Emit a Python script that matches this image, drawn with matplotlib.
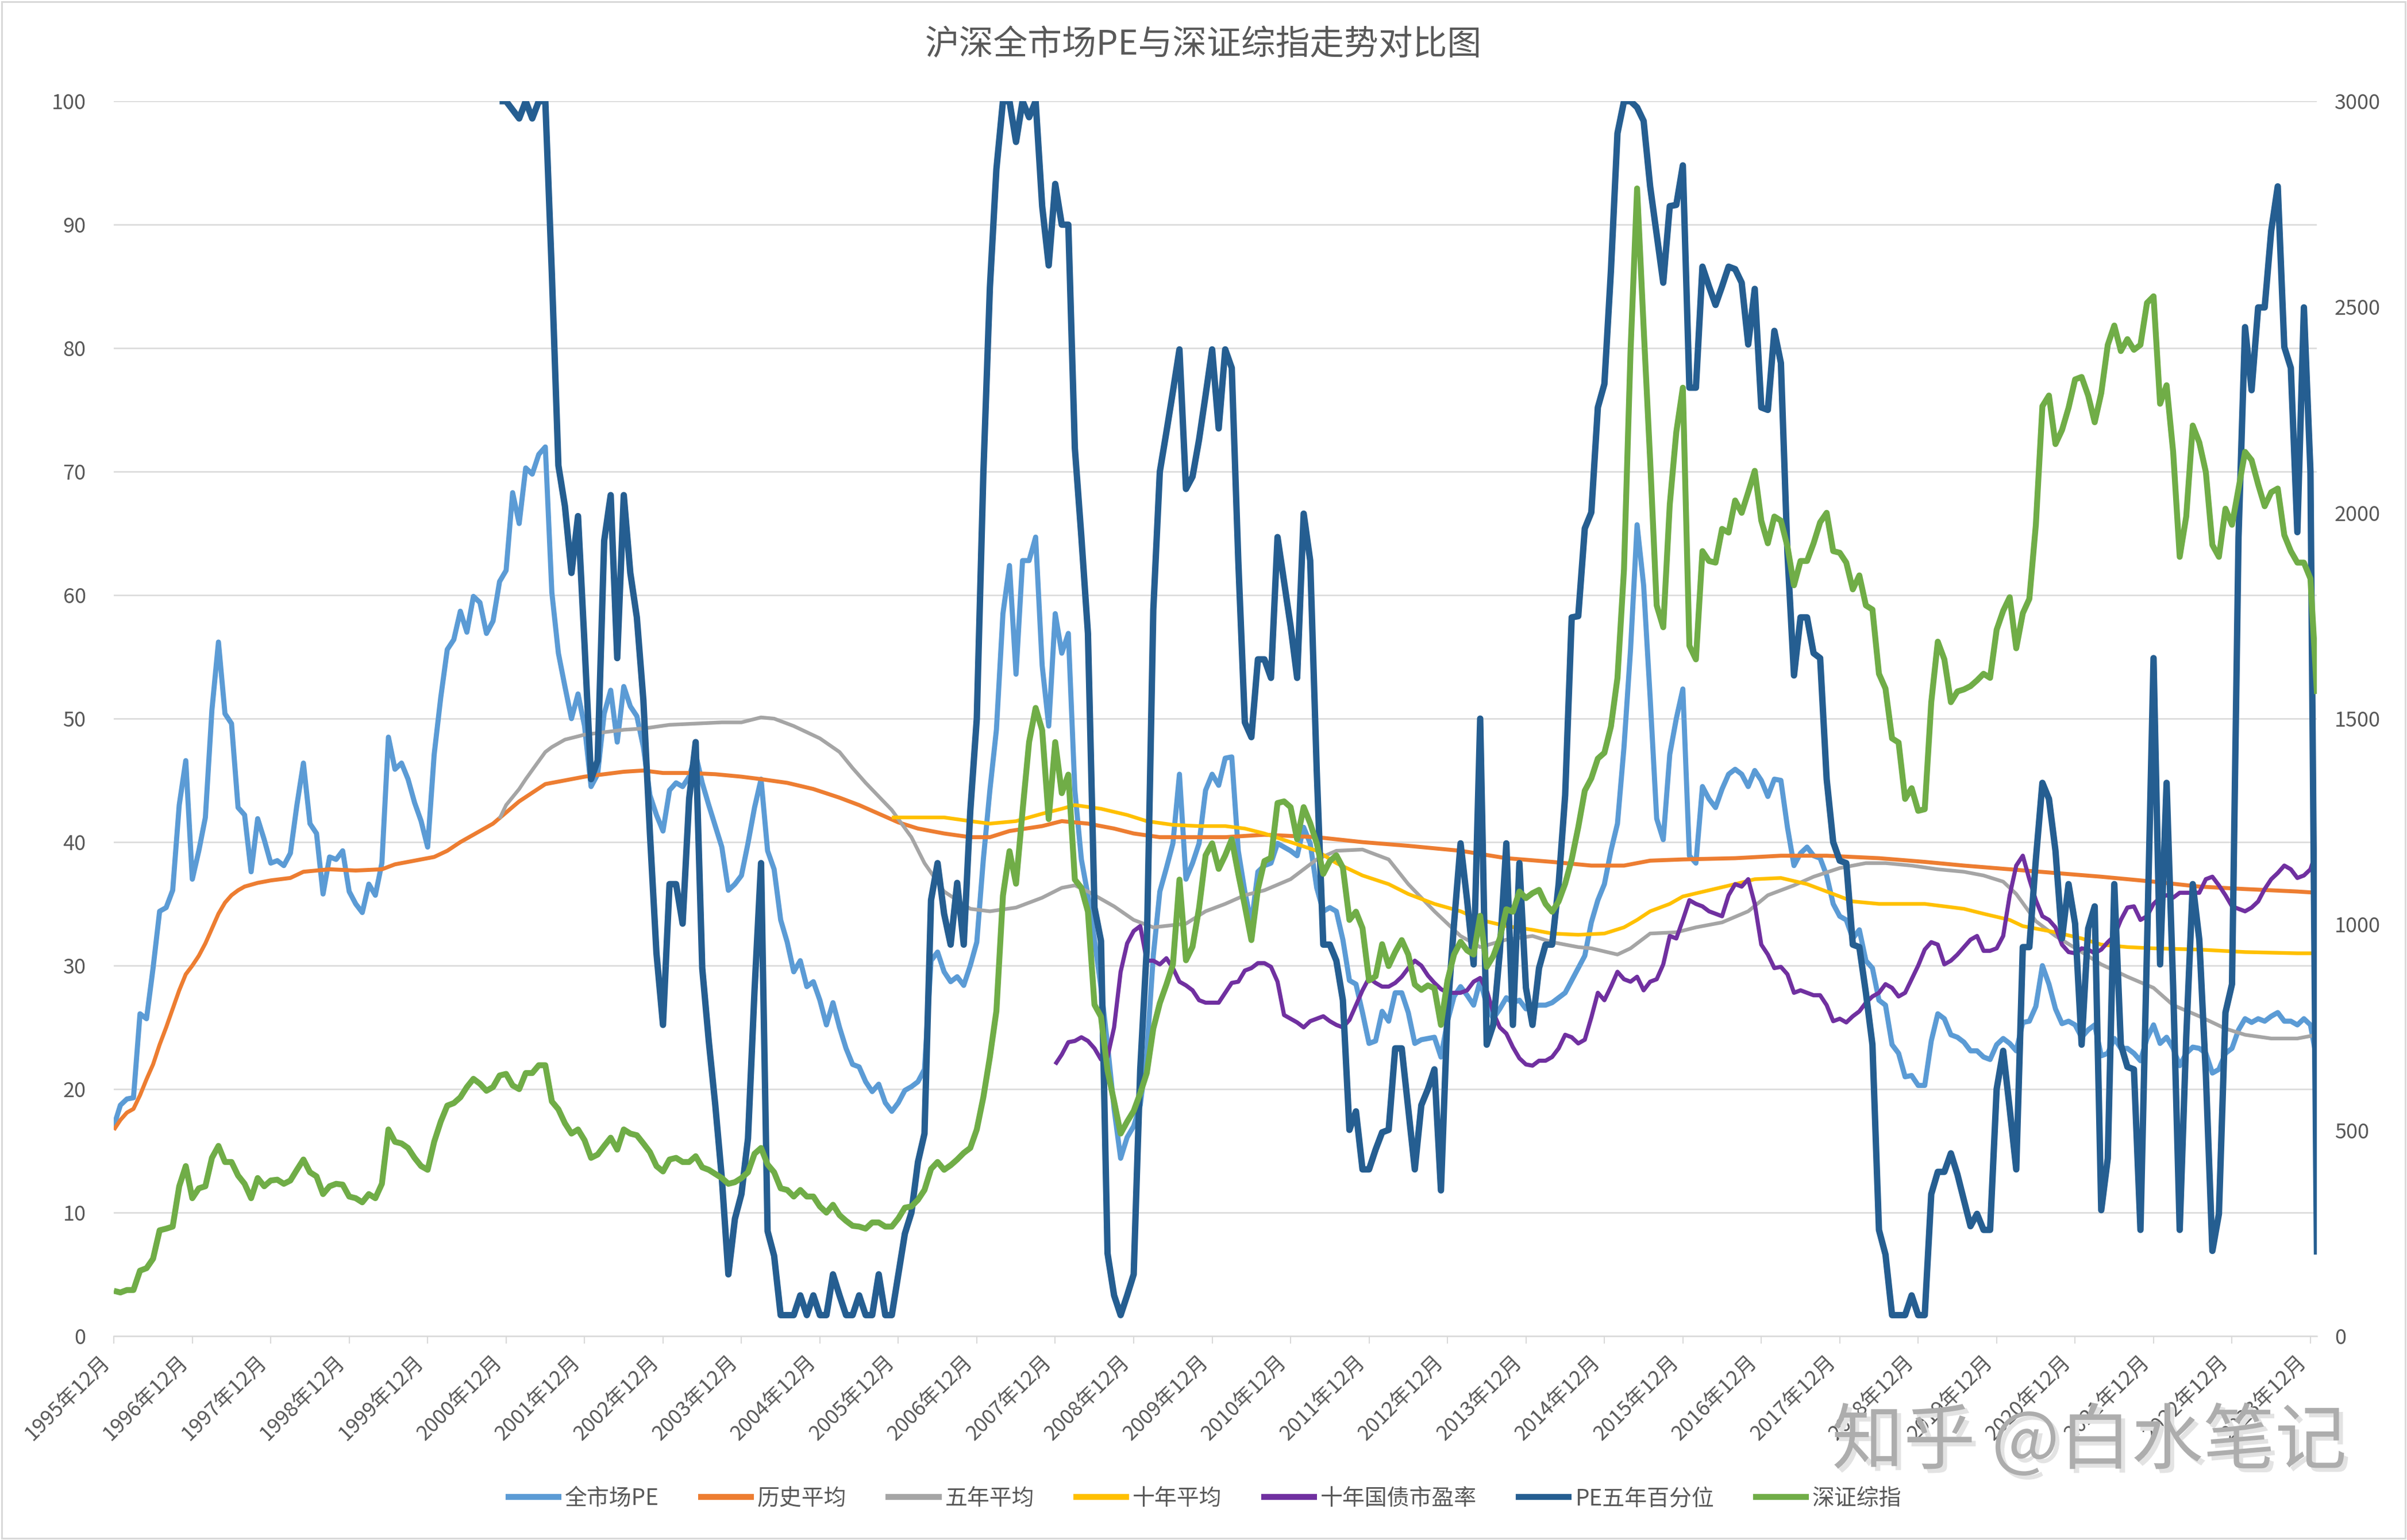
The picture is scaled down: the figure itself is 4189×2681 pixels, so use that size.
import numpy as np
import matplotlib
matplotlib.use('Agg')
import matplotlib.pyplot as plt
import matplotlib.patheffects as pe
from matplotlib.patches import Rectangle

plt.rcParams['font.family'] = ['Noto Sans CJK SC', 'DejaVu Sans']

# month index: 0 = 1995年12月, one step per month, 337 = 2024年1月
year_labels = [f'{y}年12月' for y in range(1995, 2024)]

# 全市场PE, monthly from 1995-12
pe_all = [
    17.0, 18.7, 19.2, 19.3, 26.1, 25.7, 29.8, 34.4, 34.7, 36.1, 43.0, 46.6,
    37.0, 39.3, 42.0, 50.7, 56.2, 50.4, 49.6, 42.8, 42.2, 37.6, 41.9, 40.2,
    38.3, 38.5, 38.1, 39.1, 43.0, 46.4, 41.5, 40.7, 35.8, 38.8, 38.6, 39.3,
    36.0, 35.0, 34.3, 36.6, 35.7, 38.3, 48.5, 45.9, 46.4, 45.1, 43.2, 41.7,
    39.6, 47.1, 51.7, 55.6, 56.4, 58.7, 57.0, 59.9, 59.4, 56.9, 57.9, 61.1,
    62.0, 68.3, 65.8, 70.3, 69.8, 71.4, 72.0, 60.2, 55.3, 52.6, 50.0, 52.0,
    49.4, 44.5, 45.5, 50.4, 52.3, 48.1, 52.6, 51.0, 50.2, 47.7, 43.8, 42.2,
    40.9, 44.2, 44.8, 44.5, 45.3, 47.1, 44.8, 43.0, 41.3, 39.6, 36.1, 36.6,
    37.3, 39.9, 42.8, 45.1, 39.3, 37.8, 33.7, 31.9, 29.5, 30.4, 28.3, 28.7,
    27.2, 25.2, 27.0, 25.0, 23.3, 22.0, 21.8, 20.6, 19.8, 20.4, 18.9, 18.2,
    18.9, 19.9, 20.2, 20.6, 21.6, 30.4, 31.1, 29.5, 28.7, 29.1, 28.4, 30.0,
    31.9, 38.6, 44.2, 49.1, 58.5, 62.4, 53.6, 62.8, 62.8, 64.7, 54.3, 49.4,
    58.5, 55.3, 56.9, 44.2, 38.6, 35.7, 32.1, 28.2, 23.6, 18.4, 14.4, 16.1,
    17.0, 18.7, 22.9, 30.8, 36.0, 37.9, 39.9, 45.5, 37.0, 38.3, 39.9, 44.2,
    45.5, 44.6, 46.8, 46.9, 39.3, 36.0, 33.4, 37.6, 38.1, 38.3, 39.9, 39.6,
    39.3, 38.9, 41.2, 39.9, 36.3, 34.4, 34.7, 34.4, 32.1, 28.8, 28.5, 26.2,
    23.7, 23.9, 26.3, 25.5, 27.8, 27.8, 26.2, 23.7, 24.0, 24.1, 24.2, 22.6,
    25.5, 27.5, 28.3, 27.6, 26.8, 28.8, 26.8, 25.7, 26.5, 27.4, 27.0, 27.2,
    26.5, 26.7, 26.8, 26.8, 27.0, 27.4, 27.8, 28.8, 29.8, 30.8, 33.5, 35.3,
    36.6, 39.3, 41.5, 47.7, 55.6, 65.7, 60.8, 51.7, 41.9, 40.2, 47.1, 50.0,
    52.4, 38.9, 38.3, 44.5, 43.5, 42.8, 44.3, 45.5, 45.9, 45.5, 44.5, 45.8,
    45.0, 43.7, 45.1, 45.0, 41.2, 38.1, 39.1, 39.6, 38.9, 38.7, 37.3, 35.0,
    34.0, 33.7, 32.2, 32.9, 30.4, 29.8, 27.2, 26.8, 23.6, 22.9, 21.0, 21.1,
    20.3, 20.3, 23.9, 26.1, 25.7, 24.4, 24.2, 23.8, 23.1, 23.1, 22.6, 22.4,
    23.6, 24.1, 23.7, 23.1, 25.4, 25.5, 26.7, 30.0, 28.5, 26.5, 25.3, 25.5,
    25.2, 24.2, 24.8, 25.2, 22.7, 22.9, 24.1, 23.3, 23.3, 22.9, 22.3, 24.1,
    25.2, 23.7, 24.2, 23.3, 21.9, 22.9, 23.4, 23.3, 22.9, 21.3, 21.6, 22.9,
    23.3, 24.8, 25.7, 25.4, 25.7, 25.5, 25.9, 26.2, 25.5, 25.5, 25.2, 25.7,
    25.2, 22.3,
]

# 历史平均 (sampled months, values)
hist_idx = [0, 1, 2, 3, 4, 5, 6, 7, 8, 9, 10, 11, 12, 13, 14, 15, 16, 17, 18, 19,
            20, 22, 24, 27, 29, 33, 37, 41, 43, 46, 49, 51, 53, 56, 58, 60, 62, 64,
            66, 69, 72, 75, 78, 81, 84, 88, 92, 96, 99, 103, 107, 111, 114, 117,
            120, 123, 127, 131, 134, 137, 142, 145, 149, 153, 156, 160, 164, 170,
            176, 184, 191, 198, 206, 213, 220, 226, 231, 235, 240, 248, 255, 262,
            270, 277, 283, 290, 297, 304, 312, 319, 326, 334, 337]
hist_avg = [16.7, 17.5, 18.1, 18.4, 19.5, 20.8, 22.0, 23.6, 25.0, 26.5, 28.0, 29.3,
            30.0, 30.8, 31.8, 33.0, 34.2, 35.1, 35.7, 36.1, 36.4, 36.7, 36.9, 37.1,
            37.6, 37.8, 37.7, 37.8, 38.2, 38.5, 38.8, 39.3, 40.0, 40.9, 41.5, 42.4,
            43.3, 44.0, 44.7, 45.0, 45.3, 45.5, 45.7, 45.8, 45.6, 45.6, 45.5, 45.3,
            45.1, 44.8, 44.3, 43.6, 43.0, 42.3, 41.6, 41.1, 40.7, 40.4, 40.4, 40.9,
            41.3, 41.7, 41.5, 41.1, 40.7, 40.4, 40.4, 40.4, 40.6, 40.4, 40.0, 39.7,
            39.3, 38.7, 38.4, 38.1, 38.1, 38.5, 38.6, 38.7, 38.9, 38.9, 38.7, 38.4,
            38.1, 37.8, 37.5, 37.2, 36.8, 36.4, 36.2, 36.0, 35.9]

# 五年平均
avg5_idx = [59, 60, 62, 63, 66, 67, 69, 72, 75, 78, 81, 85, 89, 93, 96, 99, 101,
            104, 108, 111, 113, 115, 119, 122, 124, 127, 131, 134, 138, 142, 145,
            147, 149, 153, 156, 159, 164, 167, 170, 173, 176, 180, 184, 187, 191,
            195, 198, 202, 206, 209, 213, 217, 220, 224, 226, 230, 232, 235, 239,
            242, 246, 250, 253, 257, 260, 264, 268, 271, 275, 279, 283, 286, 289,
            291, 294, 297, 301, 304, 308, 312, 315, 319, 323, 326, 330, 334, 337]
avg5 = [41.9, 43.0, 44.3, 45.1, 47.3, 47.7, 48.3, 48.7, 48.9, 49.1, 49.2, 49.5,
        49.6, 49.7, 49.7, 50.1, 50.0, 49.4, 48.4, 47.3, 46.0, 44.8, 42.6, 40.4,
        38.3, 36.0, 34.6, 34.4, 34.7, 35.5, 36.3, 36.5, 36.0, 34.8, 33.7, 33.1,
        33.4, 34.4, 35.0, 35.7, 36.1, 37.0, 38.6, 39.3, 39.4, 38.6, 36.6, 34.4,
        32.4, 31.5, 32.1, 32.4, 31.9, 31.5, 31.4, 30.9, 31.4, 32.6, 32.7, 33.1,
        33.5, 34.4, 35.7, 36.5, 37.2, 37.9, 38.3, 38.3, 38.1, 37.8, 37.6, 37.3,
        36.8, 35.8, 33.6, 32.4, 31.1, 30.1, 29.1, 28.2, 26.8, 25.9, 24.9, 24.4,
        24.1, 24.1, 24.4]

# 十年平均
avg10_idx = [119, 124, 127, 131, 134, 138, 142, 145, 147, 151, 155, 158, 162, 166,
             170, 173, 176, 180, 184, 187, 191, 195, 198, 202, 206, 209, 213, 217,
             220, 224, 228, 231, 233, 235, 238, 240, 244, 248, 251, 255, 259, 262,
             266, 270, 277, 280, 283, 286, 290, 292, 297, 301, 304, 308, 312, 319,
             326, 334, 337]
avg10 = [42.0, 42.0, 42.0, 41.7, 41.5, 41.7, 42.3, 42.7, 43.0, 42.7, 42.2, 41.7,
         41.4, 41.3, 41.3, 41.1, 40.7, 40.0, 39.3, 38.3, 37.3, 36.6, 35.8, 35.0,
         34.4, 33.7, 33.2, 32.9, 32.6, 32.5, 32.6, 33.1, 33.7, 34.4, 35.0, 35.6,
         36.1, 36.6, 37.0, 37.1, 36.6, 36.0, 35.2, 35.0, 35.0, 34.8, 34.6, 34.2,
         33.7, 33.2, 32.7, 32.2, 31.7, 31.5, 31.4, 31.3, 31.1, 31.0, 31.0]

# 十年国债市盈率, monthly from index 144 (2007-12)
bond_start = 144
bond_pe = [
    22.0, 22.8, 23.8, 23.9, 24.2, 23.9, 23.3, 22.4, 22.6, 25.0, 29.5, 31.8,
    32.8, 33.2, 30.4, 30.4, 30.1, 30.6, 29.8, 28.7, 28.4, 28.0, 27.2, 27.0,
    27.0, 27.0, 27.8, 28.6, 28.7, 29.6, 29.8, 30.2, 30.2, 29.9, 28.7, 26.0,
    25.7, 25.4, 25.0, 25.5, 25.7, 25.9, 25.5, 25.2, 25.0, 25.6, 26.8, 28.0,
    29.0, 28.6, 28.3, 28.3, 28.6, 29.1, 29.8, 30.4, 30.0, 29.2, 28.6, 28.1,
    27.8, 27.8, 27.8, 28.0, 28.7, 29.0, 28.0, 26.2, 25.0, 24.5, 23.4, 22.5,
    22.0, 21.9, 22.3, 22.3, 22.6, 23.3, 24.4, 24.2, 23.7, 24.0, 25.8, 27.8,
    27.2, 28.3, 29.5, 28.9, 28.7, 29.1, 28.0, 28.7, 28.9, 30.1, 32.4, 32.2,
    33.7, 35.3, 35.0, 34.8, 34.4, 34.2, 34.0, 35.7, 36.6, 36.4, 37.0, 35.0,
    31.7, 30.9, 29.8, 29.9, 29.3, 27.8, 28.0, 27.8, 27.6, 27.6, 26.8, 25.5,
    25.7, 25.4, 25.9, 26.3, 27.0, 27.5, 27.8, 28.5, 28.2, 27.5, 27.8, 28.9,
    30.0, 31.3, 31.9, 31.7, 30.1, 30.4, 30.9, 31.5, 32.1, 32.4, 31.2, 31.2,
    31.4, 32.4, 35.7, 38.1, 38.9, 37.0, 35.3, 34.0, 33.7, 33.1, 31.7, 31.1,
    31.0, 31.4, 31.3, 31.0, 31.3, 31.9, 32.4, 33.7, 34.7, 34.8, 33.7, 34.0,
    35.0, 35.5, 35.7, 35.5, 35.9, 35.9, 35.9, 35.9, 37.0, 37.2, 36.5, 35.7,
    34.8, 34.6, 34.4, 34.7, 35.2, 36.2, 37.0, 37.5, 38.1, 37.8, 37.1, 37.3,
    37.8, 39.4,
]

# PE五年百分位, monthly from index 59 (2000-11)
pct_start = 59
pe_pct = [
    100.0,
    100.0, 99.3, 98.6, 100.0, 98.6, 100.0, 100.0, 86.0, 70.5, 67.2, 61.8, 66.4,
    56.0, 45.1, 46.6, 64.4, 68.1, 54.9, 68.1, 61.8, 58.2, 51.5, 40.7, 31.0,
    25.2, 36.6, 36.6, 33.4, 43.5, 48.1, 29.8, 23.9, 18.7, 12.8, 5.0, 9.5,
    11.5, 16.0, 28.0, 38.3, 8.5, 6.5, 1.7, 1.7, 1.7, 3.3, 1.7, 3.3,
    1.7, 1.7, 5.0, 3.3, 1.7, 1.7, 3.3, 1.7, 1.7, 5.0, 1.7, 1.7,
    5.0, 8.3, 10.0, 14.1, 16.4, 35.3, 38.3, 34.2, 31.7, 36.7, 31.7, 42.5,
    50.0, 69.8, 84.9, 94.5, 100.0, 100.0, 96.7, 100.0, 98.7, 100.0, 91.5, 86.7,
    93.3, 90.0, 90.0, 71.9, 64.7, 56.9, 34.7, 32.0, 6.7, 3.3, 1.7, 3.3,
    5.0, 21.6, 31.4, 58.8, 70.0, 73.2, 76.5, 79.9, 68.6, 69.6, 72.6, 76.2,
    79.9, 73.5, 79.9, 78.4, 62.8, 49.7, 48.5, 54.8, 54.8, 53.3, 64.7, 61.1,
    57.5, 53.3, 66.6, 62.8, 45.8, 31.7, 31.7, 30.4, 27.2, 16.7, 18.2, 13.5,
    13.5, 15.1, 16.5, 16.7, 23.3, 23.3, 18.4, 13.5, 18.7, 20.0, 21.6, 11.8,
    26.2, 33.4, 39.9, 35.3, 30.1, 50.0, 23.6, 25.2, 31.1, 39.9, 25.2, 38.3,
    28.2, 25.2, 29.8, 31.7, 31.7, 36.6, 43.8, 58.2, 58.3, 65.4, 66.7, 75.2,
    77.1, 86.3, 97.4, 100.0, 100.0, 99.5, 98.4, 93.1, 89.2, 85.3, 91.5, 91.6,
    94.8, 76.8, 76.8, 86.6, 85.0, 83.5, 85.0, 86.6, 86.4, 85.3, 80.3, 84.8,
    75.2, 75.0, 81.4, 78.8, 63.4, 53.5, 58.2, 58.2, 55.3, 54.9, 45.1, 40.0,
    38.5, 38.3, 31.7, 31.5, 27.8, 23.6, 8.6, 6.6, 1.7, 1.7, 1.7, 3.3,
    1.7, 1.7, 11.5, 13.3, 13.3, 14.8, 13.1, 11.0, 8.9, 9.9, 8.6, 8.6,
    20.0, 23.1, 18.4, 13.5, 31.5, 31.5, 38.6, 44.8, 43.5, 39.3, 32.2, 36.6,
    33.4, 23.6, 33.0, 34.8, 10.2, 14.4, 36.6, 23.6, 21.8, 21.6, 8.6, 31.5,
    54.9, 30.1, 44.8, 28.3, 8.6, 24.2, 36.6, 32.1, 21.2, 6.9, 9.9, 26.2,
    28.5, 64.7, 81.7, 76.6, 83.3, 83.3, 89.5, 93.1, 80.1, 78.4, 65.1, 83.3,
    70.0, 6.6,
]

# 深证综指 (right axis), monthly from 1995-12
szzz = [
    110, 106, 112, 112, 159, 165, 188, 257, 261, 266, 364, 413,
    335, 359, 364, 433, 462, 423, 423, 390, 370, 335, 384, 364,
    378, 380, 370, 378, 404, 429, 398, 388, 345, 364, 370, 368,
    339, 335, 325, 345, 335, 370, 502, 472, 468, 457, 433, 413,
    404, 472, 521, 560, 566, 580, 605, 625, 613, 596, 605, 633,
    637, 609, 600, 639, 639, 658, 658, 570, 551, 517, 492, 502,
    476, 433, 441, 462, 482, 453, 502, 492, 488, 468, 447, 413,
    400, 429, 433, 423, 423, 437, 410, 404, 394, 384, 370, 374,
    384, 398, 443, 457, 417, 398, 359, 355, 339, 355, 339, 339,
    315, 300, 319, 294, 280, 268, 266, 261, 276, 276, 266, 266,
    286, 312, 315, 331, 355, 406, 423, 404, 415, 429, 445, 457,
    502, 580, 678, 790, 1070, 1178, 1099, 1276, 1443, 1526, 1472, 1256,
    1443, 1319, 1364, 1109, 1089, 1031, 805, 776, 645, 570, 492, 521,
    547, 590, 639, 747, 809, 854, 903, 1109, 913, 946, 1040, 1168,
    1197, 1135, 1168, 1207, 1123, 1045, 962, 1086, 1154, 1162, 1295, 1299,
    1285, 1207, 1285, 1246, 1197, 1123, 1154, 1168, 1138, 1011, 1031, 991,
    864, 874, 952, 899, 933, 962, 927, 854, 841, 852, 845, 756,
    864, 927, 958, 937, 927, 1021, 897, 923, 966, 1037, 1031, 1080,
    1064, 1076, 1084, 1050, 1031, 1056, 1099, 1158, 1236, 1325, 1355, 1403,
    1417, 1481, 1599, 1863, 2393, 2788, 2451, 2128, 1775, 1722, 2020, 2196,
    2304, 1677, 1644, 1907, 1883, 1879, 1961, 1952, 2030, 2000, 2050, 2102,
    1981, 1926, 1991, 1981, 1918, 1824, 1883, 1883, 1926, 1977, 2000, 1907,
    1903, 1879, 1814, 1848, 1775, 1765, 1609, 1573, 1452, 1442, 1305, 1331,
    1276, 1280, 1540, 1687, 1644, 1540, 1566, 1571, 1579, 1593, 1609, 1599,
    1716, 1762, 1795, 1671, 1756, 1791, 1971, 2259, 2285, 2167, 2201, 2255,
    2324, 2330, 2285, 2220, 2291, 2408, 2455, 2393, 2422, 2396, 2408, 2510,
    2526, 2265, 2310, 2148, 1893, 1991, 2212, 2171, 2099, 1922, 1893, 2010,
    1971, 2059, 2148, 2128, 2069, 2016, 2050, 2059, 1946, 1907, 1879, 1879,
    1840, 1560,
]

x_all = np.arange(len(pe_all))
x_bond = np.arange(bond_start, bond_start + len(bond_pe))
x_pct = np.arange(pct_start, pct_start + len(pe_pct))

grey_txt = '#595959'
grid_c = '#D9D9D9'

fig = plt.figure(figsize=(41.89, 26.81), dpi=100)
ax = fig.add_axes([0.0473, 0.1324, 0.9153, 0.8019])
ax2 = ax.twinx()

kw = dict(solid_joinstyle='round', solid_capstyle='butt')
l1, = ax.plot(x_all, pe_all, color='#5B9BD5', lw=6.4, label='全市场PE', **kw)
l2, = ax.plot(hist_idx, hist_avg, color='#ED7D31', lw=5.0, label='历史平均', **kw)
l3, = ax.plot(avg5_idx, avg5, color='#A5A5A5', lw=4.6, label='五年平均', **kw)
l4, = ax.plot(avg10_idx, avg10, color='#FFC000', lw=4.6, label='十年平均', **kw)
l5, = ax.plot(x_bond, bond_pe, color='#7030A0', lw=5.2, label='十年国债市盈率', **kw)
l6, = ax.plot(x_pct, pe_pct, color='#255E91', lw=8.0, label='PE五年百分位', **kw)
l7, = ax2.plot(x_all, szzz, color='#70AD47', lw=7.4, label='深证综指', **kw)

ax.set_xlim(0, len(pe_all) - 1)
ax.set_ylim(0, 100)
ax.set_yticks(np.arange(0, 101, 10))
ax2.set_ylim(0, 3000)
ax2.set_yticks(np.arange(0, 3001, 500))

ax.set_xticks(np.arange(0, len(pe_all), 12))
ax.set_xticklabels(year_labels, rotation=45, ha='right')

ax.yaxis.grid(True, color=grid_c, lw=1.8)
ax.set_axisbelow(True)

ax.tick_params(axis='x', length=9.5, width=1.5, color=grid_c, labelsize=26,
               labelcolor=grey_txt, pad=10)
ax.tick_params(axis='y', length=0, labelsize=26, labelcolor=grey_txt, pad=35)
ax2.tick_params(axis='y', length=0, labelsize=26, labelcolor=grey_txt, pad=22)

for s in ['left', 'right', 'top']:
    ax.spines[s].set_visible(False)
ax.spines['bottom'].set_color(grid_c)
ax.spines['bottom'].set_linewidth(1.8)
for s in ax2.spines.values():
    s.set_visible(False)

fig.text(0.5, 1 - 78 / 2681, '沪深全市场PE与深证综指走势对比图', ha='center', va='center',
         fontsize=43, color=grey_txt)

handles = [l1, l2, l3, l4, l5, l6, l7]
leg = fig.legend(handles, [h.get_label() for h in handles], loc='center',
                 bbox_to_anchor=(0.5, 1 - 2609 / 2681), ncol=7, frameon=False,
                 fontsize=28, handlelength=2.5, handletextpad=0.15,
                 columnspacing=1.75, labelcolor=grey_txt)
for h in leg.legend_handles:
    h.set_linewidth(7.5)

# watermark
fig.text(0.868, 0.063, '知乎 @白水笔记', ha='center', va='center', fontsize=90,
         color='#ADADAD',
         path_effects=[pe.withSimplePatchShadow(offset=(5, -5), shadow_rgbFace='#E3E3E3', alpha=1.0)])

# chart border
fig.patches.append(Rectangle((0.0008, 0.0012), 0.9984, 0.9976, transform=fig.transFigure,
                             fill=False, ec=grid_c, lw=2.2))

fig.savefig('out.png', dpi=100)
